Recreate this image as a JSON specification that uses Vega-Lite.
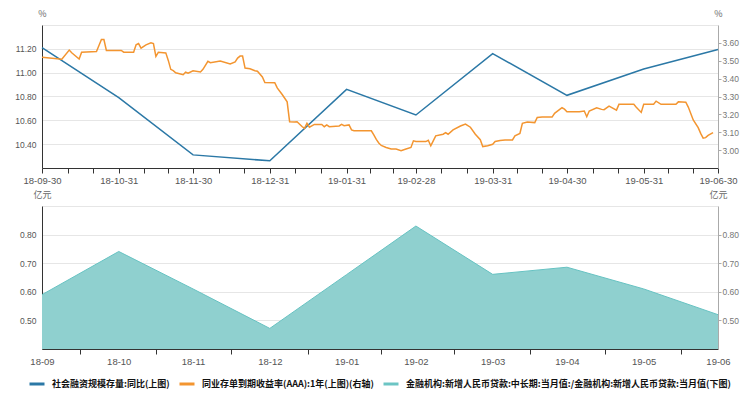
{
  "$schema": "https://vega.github.io/schema/vega-lite/v6.json",
  "background": "white",
  "padding": {"left": 14, "top": 9, "right": 15, "bottom": 5},
  "autosize": {"type": "pad"},
  "spacing": 38,
  "bounds": "flush",
  "datasets": {
    "tsf": [
      {"date": "2018/09/30", "series": "社会融资规模存量:同比(上图)", "v": 11.21},
      {"date": "2018/10/31", "series": "社会融资规模存量:同比(上图)", "v": 10.79},
      {"date": "2018/11/30", "series": "社会融资规模存量:同比(上图)", "v": 10.31},
      {"date": "2018/12/31", "series": "社会融资规模存量:同比(上图)", "v": 10.26},
      {"date": "2019/01/31", "series": "社会融资规模存量:同比(上图)", "v": 10.86},
      {"date": "2019/02/28", "series": "社会融资规模存量:同比(上图)", "v": 10.645},
      {"date": "2019/03/31", "series": "社会融资规模存量:同比(上图)", "v": 11.16},
      {"date": "2019/04/30", "series": "社会融资规模存量:同比(上图)", "v": 10.81},
      {"date": "2019/05/31", "series": "社会融资规模存量:同比(上图)", "v": 11.03},
      {"date": "2019/06/30", "series": "社会融资规模存量:同比(上图)", "v": 11.195}
    ],
    "ncd": [
      {"date": "2018/09/30", "v": 3.52},
      {"date": "2018/10/08", "v": 3.508},
      {"date": "2018/10/11", "v": 3.56},
      {"date": "2018/10/12", "v": 3.545},
      {"date": "2018/10/15", "v": 3.51},
      {"date": "2018/10/16", "v": 3.548},
      {"date": "2018/10/22", "v": 3.552},
      {"date": "2018/10/23", "v": 3.585},
      {"date": "2018/10/24", "v": 3.619},
      {"date": "2018/10/25", "v": 3.619},
      {"date": "2018/10/26", "v": 3.558},
      {"date": "2018/11/01", "v": 3.558},
      {"date": "2018/11/02", "v": 3.548},
      {"date": "2018/11/06", "v": 3.548},
      {"date": "2018/11/07", "v": 3.589},
      {"date": "2018/11/08", "v": 3.596},
      {"date": "2018/11/09", "v": 3.571},
      {"date": "2018/11/11", "v": 3.589},
      {"date": "2018/11/13", "v": 3.6},
      {"date": "2018/11/14", "v": 3.596},
      {"date": "2018/11/15", "v": 3.524},
      {"date": "2018/11/16", "v": 3.548},
      {"date": "2018/11/19", "v": 3.544},
      {"date": "2018/11/20", "v": 3.502},
      {"date": "2018/11/21", "v": 3.452},
      {"date": "2018/11/22", "v": 3.445},
      {"date": "2018/11/23", "v": 3.433},
      {"date": "2018/11/26", "v": 3.422},
      {"date": "2018/11/27", "v": 3.436},
      {"date": "2018/11/28", "v": 3.43},
      {"date": "2018/11/30", "v": 3.444},
      {"date": "2018/12/03", "v": 3.437},
      {"date": "2018/12/04", "v": 3.452},
      {"date": "2018/12/06", "v": 3.497},
      {"date": "2018/12/07", "v": 3.489},
      {"date": "2018/12/11", "v": 3.498},
      {"date": "2018/12/15", "v": 3.482},
      {"date": "2018/12/17", "v": 3.493},
      {"date": "2018/12/18", "v": 3.515},
      {"date": "2018/12/19", "v": 3.526},
      {"date": "2018/12/20", "v": 3.526},
      {"date": "2018/12/21", "v": 3.459},
      {"date": "2018/12/23", "v": 3.455},
      {"date": "2018/12/25", "v": 3.444},
      {"date": "2018/12/26", "v": 3.441},
      {"date": "2018/12/28", "v": 3.409},
      {"date": "2018/12/29", "v": 3.378},
      {"date": "2019/01/02", "v": 3.377},
      {"date": "2019/01/03", "v": 3.348},
      {"date": "2019/01/05", "v": 3.311},
      {"date": "2019/01/07", "v": 3.27},
      {"date": "2019/01/08", "v": 3.159},
      {"date": "2019/01/10", "v": 3.157},
      {"date": "2019/01/11", "v": 3.159},
      {"date": "2019/01/13", "v": 3.132},
      {"date": "2019/01/14", "v": 3.122},
      {"date": "2019/01/15", "v": 3.15},
      {"date": "2019/01/16", "v": 3.128},
      {"date": "2019/01/18", "v": 3.144},
      {"date": "2019/01/21", "v": 3.144},
      {"date": "2019/01/22", "v": 3.131},
      {"date": "2019/01/23", "v": 3.141},
      {"date": "2019/01/24", "v": 3.131},
      {"date": "2019/01/28", "v": 3.135},
      {"date": "2019/01/29", "v": 3.144},
      {"date": "2019/01/30", "v": 3.137},
      {"date": "2019/02/01", "v": 3.141},
      {"date": "2019/02/02", "v": 3.113},
      {"date": "2019/02/03", "v": 3.108},
      {"date": "2019/02/10", "v": 3.108},
      {"date": "2019/02/11", "v": 3.085},
      {"date": "2019/02/12", "v": 3.06},
      {"date": "2019/02/13", "v": 3.04},
      {"date": "2019/02/14", "v": 3.026},
      {"date": "2019/02/16", "v": 3.015},
      {"date": "2019/02/18", "v": 3.006},
      {"date": "2019/02/20", "v": 3.006},
      {"date": "2019/02/22", "v": 2.997},
      {"date": "2019/02/24", "v": 3.006},
      {"date": "2019/02/26", "v": 3.015},
      {"date": "2019/02/27", "v": 3.052},
      {"date": "2019/02/28", "v": 3.048},
      {"date": "2019/03/04", "v": 3.048},
      {"date": "2019/03/05", "v": 3.055},
      {"date": "2019/03/06", "v": 3.024},
      {"date": "2019/03/07", "v": 3.052},
      {"date": "2019/03/08", "v": 3.08},
      {"date": "2019/03/11", "v": 3.089},
      {"date": "2019/03/12", "v": 3.098},
      {"date": "2019/03/13", "v": 3.089},
      {"date": "2019/03/15", "v": 3.113},
      {"date": "2019/03/18", "v": 3.135},
      {"date": "2019/03/20", "v": 3.146},
      {"date": "2019/03/22", "v": 3.128},
      {"date": "2019/03/24", "v": 3.089},
      {"date": "2019/03/26", "v": 3.058},
      {"date": "2019/03/27", "v": 3.02},
      {"date": "2019/03/29", "v": 3.024},
      {"date": "2019/03/31", "v": 3.033},
      {"date": "2019/04/01", "v": 3.048},
      {"date": "2019/04/03", "v": 3.054},
      {"date": "2019/04/05", "v": 3.056},
      {"date": "2019/04/08", "v": 3.057},
      {"date": "2019/04/09", "v": 3.08},
      {"date": "2019/04/11", "v": 3.093},
      {"date": "2019/04/12", "v": 3.15},
      {"date": "2019/04/14", "v": 3.157},
      {"date": "2019/04/17", "v": 3.154},
      {"date": "2019/04/18", "v": 3.183},
      {"date": "2019/04/20", "v": 3.185},
      {"date": "2019/04/24", "v": 3.185},
      {"date": "2019/04/25", "v": 3.206},
      {"date": "2019/04/28", "v": 3.237},
      {"date": "2019/04/29", "v": 3.229},
      {"date": "2019/04/30", "v": 3.215},
      {"date": "2019/05/05", "v": 3.215},
      {"date": "2019/05/07", "v": 3.219},
      {"date": "2019/05/08", "v": 3.187},
      {"date": "2019/05/09", "v": 3.219},
      {"date": "2019/05/12", "v": 3.237},
      {"date": "2019/05/14", "v": 3.228},
      {"date": "2019/05/15", "v": 3.226},
      {"date": "2019/05/17", "v": 3.246},
      {"date": "2019/05/20", "v": 3.224},
      {"date": "2019/05/21", "v": 3.256},
      {"date": "2019/05/27", "v": 3.256},
      {"date": "2019/05/28", "v": 3.24},
      {"date": "2019/05/30", "v": 3.211},
      {"date": "2019/05/31", "v": 3.256},
      {"date": "2019/06/04", "v": 3.257},
      {"date": "2019/06/05", "v": 3.274},
      {"date": "2019/06/07", "v": 3.256},
      {"date": "2019/06/13", "v": 3.256},
      {"date": "2019/06/14", "v": 3.27},
      {"date": "2019/06/17", "v": 3.268},
      {"date": "2019/06/18", "v": 3.241},
      {"date": "2019/06/20", "v": 3.169},
      {"date": "2019/06/22", "v": 3.126},
      {"date": "2019/06/23", "v": 3.094},
      {"date": "2019/06/24", "v": 3.067},
      {"date": "2019/06/25", "v": 3.07},
      {"date": "2019/06/26", "v": 3.082},
      {"date": "2019/06/28", "v": 3.098}
    ],
    "loan": [
      {"date": "2018/09/30", "v": 0.59},
      {"date": "2018/10/31", "v": 0.741},
      {"date": "2018/11/30", "v": 0.61},
      {"date": "2018/12/31", "v": 0.472},
      {"date": "2019/01/31", "v": 0.66},
      {"date": "2019/02/28", "v": 0.83},
      {"date": "2019/03/31", "v": 0.661},
      {"date": "2019/04/30", "v": 0.686},
      {"date": "2019/05/31", "v": 0.61},
      {"date": "2019/06/30", "v": 0.52}
    ]
  },
  "vconcat": [
    {
      "width": 676,
      "height": 143,
      "layer": [
        {
          "data": {"name": "tsf"},
          "mark": {"type": "line", "strokeWidth": 1.5},
          "encoding": {
            "x": {
              "field": "date", "type": "temporal",
              "scale": {"domain": [{"year": 2018, "month": 9, "date": 30}, {"year": 2019, "month": 6, "date": 30}], "nice": false},
              "axis": {
                "orient": "bottom", "title": null, "grid": false, "labelFlush": false, "labelOverlap": false,
                "values": [
                  {"year": 2018, "month": 9, "date": 30},
                  {"year": 2018, "month": 10, "date": 31},
                  {"year": 2018, "month": 11, "date": 30},
                  {"year": 2018, "month": 12, "date": 31},
                  {"year": 2019, "month": 1, "date": 31},
                  {"year": 2019, "month": 2, "date": 28},
                  {"year": 2019, "month": 3, "date": 31},
                  {"year": 2019, "month": 4, "date": 30},
                  {"year": 2019, "month": 5, "date": 31},
                  {"year": 2019, "month": 6, "date": 30}
                ],
                "format": "%y-%m-%d",
                "labelFontSize": 9.5, "tickSize": 5, "labelPadding": 2
              }
            },
            "y": {
              "field": "v", "type": "quantitative",
              "scale": {"domain": [10.2, 11.4], "nice": false, "zero": false},
              "axis": {
                "values": [10.2, 10.4, 10.6, 10.8, 11.0, 11.2, 11.4],
                "labelExpr": "datum.value < 10.3 || datum.value > 11.3 ? '' : format(datum.value, '.2f')",
                "grid": true, "ticks": false, "labelPadding": 6, "labelFontSize": 8.5,
                "title": "%", "titleAngle": 0, "titleX": 0, "titleY": -7, "titleAlign": "center"
              }
            },
            "color": {
              "field": "series", "type": "nominal",
              "scale": {
                "domain": ["社会融资规模存量:同比(上图)", "同业存单到期收益率(AAA):1年(上图)(右轴)", "金融机构:新增人民币贷款:中长期:当月值:/金融机构:新增人民币贷款:当月值(下图)"],
                "range": ["#2b78a6", "#f39530", "#6cc5c4"]
              },
              "legend": {"orient": "none", "legendX": -14, "legendY": 350, "direction": "horizontal", "title": null}
            }
          }
        },
        {
          "data": {"name": "ncd"},
          "transform": [{"calculate": "'同业存单到期收益率(AAA):1年(上图)(右轴)'", "as": "series"}],
          "mark": {"type": "line", "strokeWidth": 1.5},
          "encoding": {
            "x": {
              "field": "date", "type": "temporal",
              "axis": {
                "orient": "bottom", "title": null, "grid": false, "labels": false, "domain": false, "tickSize": 5,
                "values": [
                  {"year": 2018, "month": 10, "date": 10, "hours": 8},
                  {"year": 2018, "month": 10, "date": 20, "hours": 16},
                  {"year": 2018, "month": 11, "date": 10},
                  {"year": 2018, "month": 11, "date": 20},
                  {"year": 2018, "month": 12, "date": 10, "hours": 8},
                  {"year": 2018, "month": 12, "date": 20, "hours": 16},
                  {"year": 2019, "month": 1, "date": 10, "hours": 8},
                  {"year": 2019, "month": 1, "date": 20, "hours": 16},
                  {"year": 2019, "month": 2, "date": 9, "hours": 8},
                  {"year": 2019, "month": 2, "date": 18, "hours": 16},
                  {"year": 2019, "month": 3, "date": 10, "hours": 8},
                  {"year": 2019, "month": 3, "date": 20, "hours": 16},
                  {"year": 2019, "month": 4, "date": 10},
                  {"year": 2019, "month": 4, "date": 20},
                  {"year": 2019, "month": 5, "date": 10, "hours": 8},
                  {"year": 2019, "month": 5, "date": 20, "hours": 16},
                  {"year": 2019, "month": 6, "date": 10},
                  {"year": 2019, "month": 6, "date": 20}
                ]
              }
            },
            "y": {
              "field": "v", "type": "quantitative",
              "scale": {"domain": [2.9, 3.7], "nice": false, "zero": false},
              "axis": {
                "orient": "right", "values": [3.0, 3.1, 3.2, 3.3, 3.4, 3.5, 3.6], "format": ".2f",
                "grid": false, "tickSize": 3, "tickColor": "#aaa", "domainColor": "#aaa",
                "labelPadding": 1, "labelFontSize": 8.5, "labelColor": "#777",
                "title": "%", "titleAngle": 0, "titleX": 0, "titleY": -7, "titleAlign": "center"
              }
            },
            "color": {"field": "series", "type": "nominal"}
          }
        }
      ],
      "resolve": {"scale": {"y": "independent"}, "axis": {"x": "independent"}}
    },
    {
      "width": 676,
      "height": 143,
      "data": {"name": "loan"},
      "layer": [
        {
          "mark": {"type": "area", "color": "#8fd0cf", "fillOpacity": 1, "line": {"color": "#66c2c2", "strokeWidth": 1}},
          "encoding": {
            "x": {
              "field": "date", "type": "temporal",
              "scale": {"domain": [{"year": 2018, "month": 9, "date": 30}, {"year": 2019, "month": 6, "date": 30}], "nice": false},
              "axis": {
                "orient": "bottom", "title": null, "grid": false, "labelFlush": false, "labelOverlap": false,
                "values": [
                  {"year": 2018, "month": 9, "date": 30},
                  {"year": 2018, "month": 10, "date": 31},
                  {"year": 2018, "month": 11, "date": 30},
                  {"year": 2018, "month": 12, "date": 31},
                  {"year": 2019, "month": 1, "date": 31},
                  {"year": 2019, "month": 2, "date": 28},
                  {"year": 2019, "month": 3, "date": 31},
                  {"year": 2019, "month": 4, "date": 30},
                  {"year": 2019, "month": 5, "date": 31},
                  {"year": 2019, "month": 6, "date": 30}
                ],
                "format": "%y-%m",
                "ticks": false,
                "labelFontSize": 9.5, "labelPadding": 7
              }
            },
            "y": {
              "field": "v", "type": "quantitative",
              "scale": {"domain": [0.4, 0.9], "nice": false, "zero": false},
              "axis": {
                "values": [0.4, 0.5, 0.6, 0.7, 0.8, 0.9],
                "labelExpr": "datum.value < 0.45 || datum.value > 0.85 ? '' : format(datum.value, '.2f')",
                "grid": true, "ticks": false, "labelPadding": 6, "labelFontSize": 8.5,
                "title": "亿元", "titleAngle": 0, "titleX": 0, "titleY": -7, "titleAlign": "center"
              }
            },
            "y2": {"datum": 0.4}
          }
        },
        {
          "mark": {"type": "line", "opacity": 0},
          "encoding": {
            "x": {
              "field": "date", "type": "temporal",
              "axis": {
                "orient": "bottom", "title": null, "grid": false, "labels": false, "domain": false, "tickSize": 5,
                "values": [
                  {"year": 2018, "month": 10, "date": 15, "hours": 12},
                  {"year": 2018, "month": 11, "date": 15},
                  {"year": 2018, "month": 12, "date": 15, "hours": 12},
                  {"year": 2019, "month": 1, "date": 15, "hours": 12},
                  {"year": 2019, "month": 2, "date": 14},
                  {"year": 2019, "month": 3, "date": 15, "hours": 12},
                  {"year": 2019, "month": 4, "date": 15},
                  {"year": 2019, "month": 5, "date": 15, "hours": 12},
                  {"year": 2019, "month": 6, "date": 15}
                ]
              }
            },
            "y": {
              "field": "v", "type": "quantitative",
              "scale": {"domain": [0.4, 0.9], "nice": false, "zero": false},
              "axis": {
                "orient": "right", "values": [0.5, 0.6, 0.7, 0.8], "format": ".2f",
                "grid": false, "tickSize": 3, "tickColor": "#aaa", "domainColor": "#aaa",
                "labelPadding": 1, "labelFontSize": 8.5, "labelColor": "#777",
                "title": "亿元", "titleAngle": 0, "titleX": 0, "titleY": -7, "titleAlign": "center"
              }
            }
          }
        }
      ],
      "resolve": {"scale": {"y": "independent"}, "axis": {"x": "independent"}}
    }
  ],
  "config": {
    "view": {"stroke": null},
    "axisX": {"labelOverlap": false, "labelFlush": false},
    "axis": {
      "labelFont": "Liberation Sans",
      "labelColor": "#555",
      "titleFont": "Noto Sans CJK SC",
      "titleFontSize": 9,
      "titleFontWeight": "normal",
      "titleColor": "#666",
      "domainColor": "#333",
      "tickColor": "#333",
      "gridColor": "#e6e6e6"
    },
    "legend": {
      "symbolType": "stroke",
      "symbolSize": 225,
      "symbolStrokeWidth": 3,
      "labelFont": "Noto Sans CJK SC",
      "labelFontSize": 9,
      "labelFontWeight": "bold",
      "labelColor": "#111",
      "labelOffset": 6,
      "columnPadding": 3,
      "labelLimit": 600,
      "padding": 0
    }
  }
}
